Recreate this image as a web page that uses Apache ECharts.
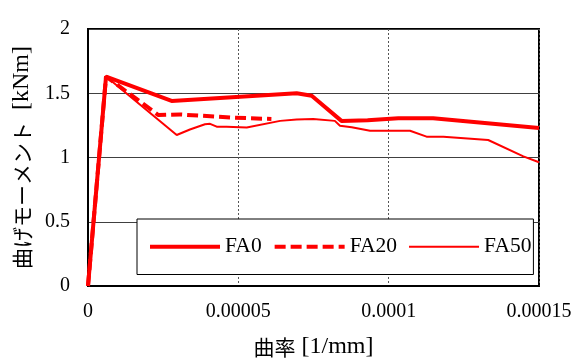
<!DOCTYPE html>
<html><head><meta charset="utf-8">
<script src="https://cdn.jsdelivr.net/npm/echarts@6/dist/echarts.min.js"></script>
<style>html,body{margin:0;padding:0;background:#fff}#c{width:579px;height:364px}</style>
</head><body><div id="c"></div>
<script>
var seriesNames = ['FA0', 'FA20', 'FA50'];
var xTickLabels = ['0', '0.00005', '0.0001', '0.00015'];
var yTickLabels = ['0', '0.5', '1', '1.5', '2'];
var fa0X = [0, 0.0000060, 0.0000278, 0.0000694, 0.0000744, 0.0000843, 0.0000930, 0.0001032, 0.0001148, 0.00015];
var fa0Y = [0, 1.63, 1.44, 1.50, 1.48, 1.285, 1.29, 1.305, 1.305, 1.23];
var fa20X = [0, 0.0000060, 0.0000234, 0.0000306, 0.0000483, 0.0000610];
var fa20Y = [0, 1.63, 1.33, 1.335, 1.31, 1.30];
var fa50X = [0, 0.0000060, 0.0000295, 0.0000339, 0.0000389, 0.0000406, 0.0000428, 0.0000461, 0.0000528, 0.0000639, 0.0000694, 0.0000749, 0.0000821, 0.0000838, 0.0000877, 0.0000938, 0.0001071, 0.0001126, 0.0001182, 0.0001331, 0.0001448, 0.00015];
var fa50Y = [0, 1.63, 1.175, 1.218, 1.259, 1.262, 1.24, 1.24, 1.234, 1.285, 1.295, 1.30, 1.285, 1.247, 1.236, 1.208, 1.208, 1.162, 1.162, 1.136, 1.009, 0.963];

function zip(xs, ys) { return xs.map(function (x, i) { return [x, ys[i]]; }); }
var FONT = "'Liberation Serif', 'Noto Sans CJK JP', serif";
var CJK = "'Noto Sans CJK JP', sans-serif";
var nameRich = {
  j: {fontFamily: CJK, fontSize: 21, color: '#000', lineHeight: 24},
  l: {fontFamily: FONT, fontSize: 24, color: '#000', lineHeight: 24},
  ly: {fontFamily: FONT, fontSize: 24, color: '#000', lineHeight: 24, padding: [0, 0, 0, 12]}
};
var lineW = [4, 4, 2];
var lineT = ['solid', [11, 5], 'solid'];
var chart = echarts.init(document.getElementById('c'), null, {renderer: 'canvas'});
chart.setOption({
  animation: false,
  backgroundColor: '#fff',
  grid: {left: 88, right: 40, top: 29, bottom: 74, show: true, borderColor: '#000', borderWidth: 2, backgroundColor: 'transparent'},
  xAxis: {
    type: 'value', min: 0, max: 0.00015, interval: 0.00005,
    name: '{j|曲率}{l| [1/mm]}', nameLocation: 'middle', nameGap: 49,
    nameTextStyle: {fontFamily: FONT, fontSize: 22, color: '#000', rich: nameRich},
    axisLine: {show: true, lineStyle: {color: '#000', width: 2}},
    axisTick: {show: false},
    axisLabel: {fontFamily: FONT, fontSize: 20, color: '#000', margin: 16,
      formatter: function (v) { return xTickLabels[Math.round(v / 0.00005)]; }},
    splitLine: {show: true, lineStyle: {color: '#555', width: 1, type: [2, 2]}}
  },
  yAxis: {
    type: 'value', min: 0, max: 2, interval: 0.5,
    name: '{j|曲げモーメント}{ly|[kNm]}', nameLocation: 'middle', nameGap: 53,
    nameTextStyle: {fontFamily: FONT, fontSize: 22, color: '#000', rich: nameRich},
    axisLine: {show: true, lineStyle: {color: '#000', width: 2}},
    axisTick: {show: false},
    axisLabel: {fontFamily: FONT, fontSize: 20, color: '#000', margin: 18,
      formatter: function (v) { return yTickLabels[Math.round(v / 0.5)]; }},
    splitLine: {show: true, lineStyle: {color: '#404040', width: 1}}
  },
  legend: {
    left: 137, top: 219, orient: 'horizontal',
    data: seriesNames.map(function (n, i) {
      return {name: n, itemStyle: {opacity: 0}, lineStyle: {width: lineW[i], type: lineT[i], color: '#ff0000'}};
    }),
    itemWidth: 70, itemHeight: 20, itemGap: 11,
    padding: [17, 2, 17, 11],
    borderColor: '#000', borderWidth: 1, backgroundColor: '#fff',
    textStyle: {fontFamily: FONT, fontSize: 21.5, color: '#000'}
  },
  series: [
    {name: seriesNames[0], type: 'line', data: zip(fa0X, fa0Y), symbol: 'none', z: 3,
      lineStyle: {color: '#ff0000', width: lineW[0], type: lineT[0]}, itemStyle: {color: '#ff0000'}},
    {name: seriesNames[1], type: 'line', data: zip(fa20X, fa20Y), symbol: 'none', z: 2,
      lineStyle: {color: '#ff0000', width: lineW[1], type: lineT[1]}, itemStyle: {color: '#ff0000'}},
    {name: seriesNames[2], type: 'line', data: zip(fa50X, fa50Y), symbol: 'none', z: 1,
      lineStyle: {color: '#ff0000', width: lineW[2], type: lineT[2]}, itemStyle: {color: '#ff0000'}}
  ]
});
</script></body></html>
